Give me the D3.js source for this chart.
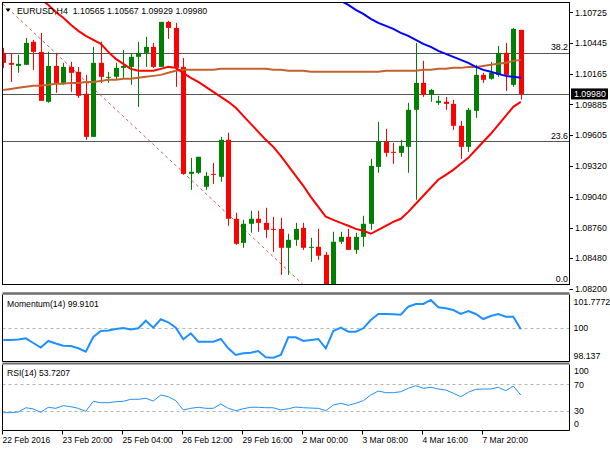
<!DOCTYPE html>
<html>
<head>
<meta charset="utf-8">
<script src="https://cdn.jsdelivr.net/npm/d3@7/dist/d3.min.js"></script>
<style>
  body { margin: 0; background: #fff; }
  svg { display: block; font-family: "Liberation Sans", Arial, sans-serif; }
</style>
</head>
<body>
<script>
// EURUSD H4 candles, 70 bars
const opens = [1.10355,1.10264,1.10236,1.10246,1.10456,1.10364,1.09908,1.10236,1.10081,1.10227,
  1.10182,1.09981,1.09588,1.10264,1.10127,1.10136,1.10218,1.10227,1.10319,1.10355,
  1.10410,1.10227,1.10638,1.10583,1.10227,1.09250,1.09260,1.09132,1.09250,1.09223,
  1.09561,1.08840,1.08620,1.08794,1.08840,1.08803,1.08748,1.08748,1.08575,1.08648,
  1.08757,1.08575,1.08584,1.08511,1.08237,1.08630,1.08675,1.08556,1.08675,1.08794,
  1.09314,1.09543,1.09451,1.09442,1.09497,1.09835,1.10081,1.09972,1.09899,1.09908,
  1.09889,1.09689,1.09497,1.09826,1.10154,1.10118,1.10154,1.10355,1.10063,1.10565];
const highs = [1.10401,1.10355,1.10337,1.10492,1.10474,1.10538,1.10364,1.10355,1.10264,1.10273,
  1.10227,1.10154,1.10410,1.10456,1.10182,1.10264,1.10382,1.10355,1.10456,1.10501,
  1.10446,1.10638,1.10647,1.10629,1.10309,1.09396,1.09406,1.09269,1.09351,1.09588,
  1.09625,1.08894,1.08830,1.08913,1.08913,1.08940,1.08858,1.08849,1.08703,1.08803,
  1.08803,1.08666,1.08748,1.08538,1.08721,1.08721,1.08748,1.08712,1.08867,1.09387,
  1.09725,1.09661,1.09533,1.09561,1.09899,1.10446,1.10282,1.10026,1.09963,1.09953,
  1.09926,1.09734,1.09853,1.10246,1.10173,1.10273,1.10419,1.10446,1.10583,1.10567];
const lows = [1.10218,1.10090,1.10173,1.10246,1.10200,1.09917,1.09899,1.09990,1.10063,1.09999,
  1.09944,1.09561,1.09588,1.10081,1.10081,1.10109,1.10127,1.10063,1.09862,1.10227,
  1.10218,1.10227,1.10483,1.10045,1.09241,1.09104,1.09250,1.09104,1.09159,1.09177,
  1.08776,1.08602,1.08575,1.08712,1.08721,1.08666,1.08538,1.08328,1.08328,1.08593,
  1.08556,1.08447,1.08465,1.08237,1.08237,1.08611,1.08556,1.08520,1.08584,1.08739,
  1.09260,1.09406,1.09342,1.09406,1.09260,1.09013,1.09953,1.09908,1.09880,1.09835,
  1.09652,1.09387,1.09451,1.09762,1.10081,1.10109,1.10136,1.10008,1.10045,1.09929];
const closes = [1.10264,1.10246,1.10255,1.10446,1.10364,1.09917,1.10236,1.10081,1.10227,1.10173,
  1.09963,1.09588,1.10264,1.10136,1.10136,1.10218,1.10236,1.10319,1.10355,1.10410,
  1.10227,1.10638,1.10583,1.10218,1.09250,1.09269,1.09406,1.09232,1.09241,1.09561,
  1.08840,1.08611,1.08794,1.08840,1.08803,1.08739,1.08739,1.08575,1.08648,1.08748,
  1.08575,1.08584,1.08502,1.08237,1.08630,1.08675,1.08556,1.08675,1.08794,1.09323,
  1.09543,1.09442,1.09442,1.09506,1.09835,1.10081,1.09972,1.10017,1.09917,1.09889,
  1.09689,1.09497,1.09835,1.10154,1.10109,1.10173,1.10355,1.10154,1.10574,1.09980];

// moving averages
const maFast = [1.11131,1.11076,1.11012,1.10958,1.10903,1.10848,1.10793,1.10729,1.10675,1.10611,
  1.10556,1.10510,1.10474,1.10437,1.10364,1.10300,1.10255,1.10209,1.10191,1.10191,
  1.10191,1.10209,1.10227,1.10218,1.10173,1.10127,1.10090,1.10045,1.09999,1.09953,
  1.09908,1.09853,1.09780,1.09707,1.09634,1.09561,1.09497,1.09415,1.09323,1.09232,
  1.09141,1.09040,1.08949,1.08858,1.08830,1.08803,1.08776,1.08748,1.08730,1.08703,
  1.08739,1.08776,1.08812,1.08840,1.08903,1.08977,1.09050,1.09123,1.09196,1.09241,
  1.09287,1.09342,1.09396,1.09470,1.09543,1.09616,1.09698,1.09780,1.09862,1.09908];
const maMid = [1.10017,1.10026,1.10036,1.10045,1.10054,1.10054,1.10063,1.10072,1.10072,1.10081,
  1.10081,1.10090,1.10090,1.10099,1.10109,1.10109,1.10118,1.10118,1.10127,1.10136,
  1.10145,1.10154,1.10173,1.10191,1.10200,1.10200,1.10200,1.10200,1.10200,1.10209,
  1.10209,1.10209,1.10209,1.10209,1.10209,1.10209,1.10200,1.10200,1.10191,1.10191,
  1.10191,1.10182,1.10182,1.10182,1.10182,1.10182,1.10182,1.10182,1.10182,1.10182,
  1.10182,1.10191,1.10191,1.10191,1.10191,1.10191,1.10200,1.10200,1.10209,1.10209,
  1.10218,1.10218,1.10227,1.10227,1.10236,1.10246,1.10255,1.10264,1.10282,1.10291];
const maSlowStart = 42;
const maSlow = [1.10949,1.10912,1.10866,1.10830,1.10793,1.10748,1.10711,1.10666,1.10629,1.10602,
  1.10574,1.10538,1.10510,1.10474,1.10437,1.10410,1.10373,1.10346,1.10319,1.10291,
  1.10264,1.10227,1.10200,1.10182,1.10163,1.10145,1.10136,1.10127];

// indicators
const momentum = [99.332,99.332,99.360,99.425,99.169,98.925,99.278,99.142,99.023,99.006,
  98.881,98.697,99.495,99.821,99.848,99.930,99.984,99.903,99.968,100.381,
  100.001,100.457,100.294,100.001,99.370,99.696,99.240,99.240,99.240,99.387,
  98.881,98.517,98.610,98.642,98.735,98.392,98.371,98.517,99.479,99.479,
  99.278,99.332,99.387,98.881,99.821,100.001,99.783,99.783,99.968,100.419,
  100.745,100.745,100.729,100.707,101.142,101.288,101.288,101.506,101.109,101.055,
  100.962,100.745,100.908,100.745,100.473,100.636,100.745,100.598,100.598,99.9101];
const rsi = [27.0,27.0,28.0,34.5,32.6,27.6,35.2,33.6,37.6,36.1,
  33.6,29.1,44.2,42.1,42.1,43.6,44.2,47.3,47.3,48.8,
  44.7,53.8,51.2,45.2,31.1,33.6,35.2,33.6,33.6,40.2,
  33.6,30.0,33.0,35.2,35.2,34.5,34.5,31.1,33.0,35.6,
  34.5,34.0,33.6,30.0,38.6,41.2,38.2,41.2,45.2,53.8,
  59.8,57.3,57.3,58.8,63.9,67.9,63.9,65.5,62.9,61.4,
  56.4,51.2,57.9,62.4,62.9,62.9,65.5,60.3,67.4,53.7207];

// axes and objects
const priceTicks = [1.10725,1.10445,1.10165,1.09885,1.09605,1.09320,1.09040,1.08760,1.08480,1.08200];
const timeLabels = ["22 Feb 2016","23 Feb 20:00","25 Feb 04:00","26 Feb 12:00","29 Feb 16:00",
  "2 Mar 00:00","3 Mar 08:00","4 Mar 16:00","7 Mar 20:00"];
const timeLabelBars = [0,8,16,24,32,40,48,56,64];
const fibLow = 1.08237, fibHigh = 1.13787;
const fibLevels = [0, 23.6, 38.2];
const trendPoints = [{bar: 0, price: 1.10800}, {bar: 40, price: 1.08237}];
const momTicks = [101.7772, 100, 98.137];
const rsiTicks = [100, 70, 30, 0];
const lastPrice = closes[closes.length - 1];

const W = 610, H = 450;
const L = 2.5, R = 569.5;
const mainP = {top: 2.5, bottom: 284.5};
const momP = {top: 294.5, bottom: 361.5};
const rsiP = {top: 364.5, bottom: 430.5};

const x = d3.scaleLinear().domain([0, 75]).range([3.3, 565.8]);
const y = d3.scaleLinear().domain([1.08237, 1.10815]).range([284.8, 2.5]);
const yMom = d3.scaleLinear().domain([98.137, 101.7772]).range([362, 295]);
const yRsi = d3.scaleLinear().domain([0, 100]).range([430.5, 364.5]);

const svg = d3.select("body").append("svg")
  .attr("width", W).attr("height", H)
  .attr("viewBox", [0, 0, W, H]);

svg.append("rect").attr("width", W).attr("height", H).attr("fill", "#fff");

const defs = svg.append("defs");
defs.append("clipPath").attr("id", "clipMain").append("rect")
  .attr("x", L).attr("y", mainP.top).attr("width", R - L).attr("height", mainP.bottom - mainP.top);
defs.append("clipPath").attr("id", "clipMom").append("rect")
  .attr("x", L).attr("y", momP.top).attr("width", R - L).attr("height", momP.bottom - momP.top);
defs.append("clipPath").attr("id", "clipRsi").append("rect")
  .attr("x", L).attr("y", rsiP.top).attr("width", R - L).attr("height", rsiP.bottom - rsiP.top);

const bars = d3.range(opens.length);
const fontSize = 8.8;

// ---- main window ----
const gMain = svg.append("g").attr("clip-path", "url(#clipMain)");

// fibonacci levels
const fibs = fibLevels.map(l => ({level: l, price: fibLow + (fibHigh - fibLow) * l / 100}));
gMain.append("g").selectAll("line").data(fibs).join("line")
  .attr("x1", L).attr("x2", R)
  .attr("y1", d => Math.round(y(d.price)) + 0.5).attr("y2", d => Math.round(y(d.price)) + 0.5)
  .attr("stroke", "#555").attr("stroke-width", 1);

// last price line
gMain.append("line")
  .attr("x1", L).attr("x2", R)
  .attr("y1", Math.round(y(lastPrice)) + 0.5).attr("y2", Math.round(y(lastPrice)) + 0.5)
  .attr("stroke", "#555").attr("stroke-width", 1);

// trend line
gMain.append("line")
  .attr("x1", x(trendPoints[0].bar)).attr("y1", y(trendPoints[0].price))
  .attr("x2", x(trendPoints[1].bar)).attr("y2", y(trendPoints[1].price))
  .attr("stroke", "#c85a5a").attr("stroke-width", 1).attr("stroke-dasharray", "3,3");

// candles
const colorOf = i => closes[i] >= opens[i] ? "#008000" : "#ff0000";
gMain.append("g").selectAll("line").data(bars).join("line")
  .attr("x1", i => Math.round(x(i)) + 0.5).attr("x2", i => Math.round(x(i)) + 0.5)
  .attr("y1", i => y(highs[i])).attr("y2", i => y(lows[i]))
  .attr("stroke", colorOf).attr("stroke-width", 1);
gMain.append("g").selectAll("rect").data(bars).join("rect")
  .attr("x", i => Math.round(x(i)) - 2)
  .attr("width", 5)
  .attr("y", i => y(Math.max(opens[i], closes[i])))
  .attr("height", i => Math.max(1, Math.abs(y(opens[i]) - y(closes[i]))))
  .attr("fill", colorOf);

// moving averages
const priceLine = d3.line().x(d => x(d.i)).y(d => y(d.v));
gMain.append("path")
  .attr("d", priceLine(maMid.map((v, i) => ({i, v}))))
  .attr("fill", "none").attr("stroke", "#c4622d").attr("stroke-width", 2);
gMain.append("path")
  .attr("d", priceLine(maSlow.map((v, k) => ({i: k + maSlowStart, v}))))
  .attr("fill", "none").attr("stroke", "#0000ff").attr("stroke-width", 2);
gMain.append("path")
  .attr("d", priceLine(maFast.map((v, i) => ({i, v}))))
  .attr("fill", "none").attr("stroke", "#ff0000").attr("stroke-width", 2);

// fib labels
svg.append("g").selectAll("text").data(fibs).join("text")
  .attr("x", 568).attr("y", d => y(d.price) - 2.5)
  .attr("text-anchor", "end").attr("font-size", fontSize).attr("fill", "#000")
  .text(d => d.level.toFixed(1));

// title
svg.append("path").attr("d", "M5.5,8.5 L10.5,8.5 L8,12 Z").attr("fill", "#000");
svg.append("text").attr("x", 17).attr("y", 13.5).attr("font-size", fontSize).attr("fill", "#000")
  .attr("xml:space", "preserve")
  .text(`EURUSD,H4  ${opens[69].toFixed(5)} ${highs[69].toFixed(5)} ${lows[69].toFixed(5)} ${closes[69].toFixed(5)}`);

svg.append("rect").attr("x", L).attr("y", mainP.top).attr("width", R - L).attr("height", mainP.bottom - mainP.top)
  .attr("fill", "none").attr("stroke", "#000");

// price axis
const gPy = svg.append("g");
gPy.selectAll("line").data(priceTicks).join("line")
  .attr("x1", R).attr("x2", R + 3.5)
  .attr("y1", d => Math.round(y(d)) + 0.5).attr("y2", d => Math.round(y(d)) + 0.5)
  .attr("stroke", "#000");
gPy.selectAll("text").data(priceTicks).join("text")
  .attr("x", 575).attr("y", d => y(d) + 3.2)
  .attr("font-size", fontSize).attr("fill", "#000")
  .text(d => d.toFixed(5));

// last price marker
svg.append("rect").attr("x", 571).attr("y", y(lastPrice) - 5.5).attr("width", 37).attr("height", 11).attr("fill", "#000");
svg.append("text").attr("x", 574).attr("y", y(lastPrice) + 3.2)
  .attr("font-size", fontSize).attr("fill", "#fff").text(lastPrice.toFixed(5));

// ---- momentum window ----
const gMom = svg.append("g").attr("clip-path", "url(#clipMom)");
gMom.append("line").attr("x1", L).attr("x2", R)
  .attr("y1", Math.round(yMom(100)) + 0.5).attr("y2", Math.round(yMom(100)) + 0.5)
  .attr("stroke", "#b4b4b4").attr("stroke-dasharray", "3,3");
gMom.append("path")
  .attr("d", d3.line().x((d, i) => x(i)).y(d => yMom(d))(momentum))
  .attr("fill", "none").attr("stroke", "#1e90ff").attr("stroke-width", 2);

svg.append("line").attr("x1", L).attr("x2", R).attr("y1", momP.top - 1).attr("y2", momP.top - 1)
  .attr("stroke", "#6e6e6e").attr("stroke-width", 2.5);
svg.append("path")
  .attr("d", `M${L},${momP.top}V${momP.bottom}H${R}V${momP.top}`)
  .attr("fill", "none").attr("stroke", "#000");
svg.append("text").attr("x", 7).attr("y", 307).attr("font-size", fontSize - 0.2).attr("fill", "#000")
  .text(`Momentum(14) ${momentum[momentum.length - 1].toFixed(4)}`);

svg.append("g").selectAll("text").data(momTicks).join("text")
  .attr("x", 573.5)
  .attr("y", (d, i) => i === 0 ? momP.top + 10 : i === momTicks.length - 1 ? momP.bottom - 3 : yMom(d) + 3.2)
  .attr("font-size", fontSize).attr("fill", "#000")
  .text(d => d);

// ---- RSI window ----
const gRsi = svg.append("g").attr("clip-path", "url(#clipRsi)");
gRsi.selectAll("line").data([70, 30]).join("line")
  .attr("x1", L).attr("x2", R)
  .attr("y1", d => Math.round(yRsi(d)) + 0.5).attr("y2", d => Math.round(yRsi(d)) + 0.5)
  .attr("stroke", "#b4b4b4").attr("stroke-dasharray", "3,3");
gRsi.append("path")
  .attr("d", d3.line().x((d, i) => x(i)).y(d => yRsi(d))(rsi))
  .attr("fill", "none").attr("stroke", "#1e90ff").attr("stroke-width", 1);

svg.append("line").attr("x1", L).attr("x2", R).attr("y1", rsiP.top - 1).attr("y2", rsiP.top - 1)
  .attr("stroke", "#6e6e6e").attr("stroke-width", 2);
svg.append("path")
  .attr("d", `M${L},${rsiP.top}V${rsiP.bottom}H${R}V${rsiP.top}`)
  .attr("fill", "none").attr("stroke", "#000");
svg.append("text").attr("x", 7).attr("y", 376).attr("font-size", fontSize - 0.2).attr("fill", "#000")
  .text(`RSI(14) ${rsi[rsi.length - 1].toFixed(4)}`);

svg.append("g").selectAll("text").data(rsiTicks).join("text")
  .attr("x", 574)
  .attr("y", d => d === 100 ? rsiP.top + 9.5 : d === 0 ? rsiP.bottom - 3.5 : yRsi(d) + 3.2)
  .attr("font-size", fontSize).attr("fill", "#000")
  .text(d => d);

// ---- time axis ----
const gTx = svg.append("g");
gTx.selectAll("line").data(timeLabelBars).join("line")
  .attr("x1", b => Math.round(x(b)) - 0.5).attr("x2", b => Math.round(x(b)) - 0.5)
  .attr("y1", rsiP.bottom).attr("y2", rsiP.bottom + 4)
  .attr("stroke", "#000");
gTx.selectAll("text").data(timeLabelBars).join("text")
  .attr("x", b => Math.round(x(b)) - 0.5)
  .attr("y", 442.5)
  .attr("font-size", 8.5).attr("fill", "#000")
  .text((b, k) => timeLabels[k]);
</script>
</body>
</html>
